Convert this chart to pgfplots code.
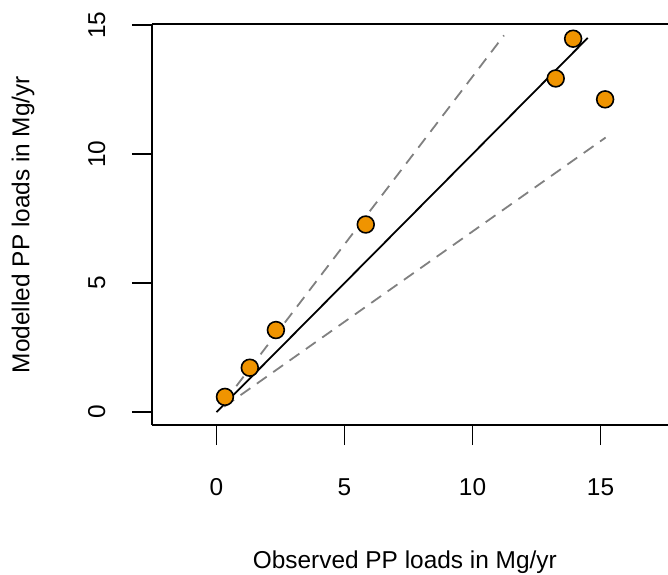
\documentclass[border=0pt]{standalone}
\usepackage{fontspec}
\setmainfont{Liberation Sans}
\usepackage{pgfplots}
\pgfplotsset{compat=1.18}
\definecolor{ptorange}{RGB}{240,148,0}
\definecolor{bandgray}{RGB}{128,128,128}
\begin{document}
\begin{tikzpicture}
\begin{axis}[
    name=ax,
    scale only axis,
    width=520.2bp, height=401bp,
    xmin=-2.52, xmax=17.8,
    ymin=-0.5, ymax=15.04,
    axis y line*=left,
    axis line style={line width=1.8bp},
    xtick={0,5,10,15}, ytick={0,5,10,15},
    tick pos=left,
    tick align=outside,
    major tick length=20bp,
    tick style={line width=1.8bp, black},
    /pgf/number format/assume math mode=true,
    tick label style={font=\fontsize{24.5}{28}\selectfont},
    xticklabel shift=30bp,
    yticklabel shift=23bp,
    yticklabel style={rotate=90, anchor=south},
    label style={font=\fontsize{24.5}{28}\selectfont},
    xlabel={Observed PP loads in Mg/yr},
    ylabel={Modelled PP loads in Mg/yr},
    xlabel style={at={(axis description cs:0.486,-0.3416)}, anchor=center},
    ylabel style={at={(axis description cs:-0.248,0.5)}, anchor=center, rotate=0},
    clip=false,
]
% 1:1 line
\addplot[black, line width=1.8bp] coordinates {(0,0) (14.5,14.5)};
% +/- 30 % bands
\addplot[bandgray, line width=1.8bp, dash pattern=on 12bp off 8bp] coordinates {(0.3,0.39) (11.23,14.6)};
\addplot[bandgray, line width=1.8bp, dash pattern=on 12bp off 8bp] coordinates {(0.3,0.21) (15.2,10.64)};
% observations
\addplot[only marks, mark=*, mark size=8.4bp,
    mark options={fill=ptorange, draw=black, line width=1.6bp}]
coordinates {
    (0.33,0.59) (1.3,1.72) (2.32,3.18) (5.83,7.27)
    (13.25,12.93) (13.93,14.47) (15.18,12.12)
};
\end{axis}
\pgfresetboundingbox
\useasboundingbox ([xshift=-152bp,yshift=-150bp]ax.south west) rectangle ([xshift=516bp,yshift=24bp]ax.north west);
\end{tikzpicture}
\end{document}
